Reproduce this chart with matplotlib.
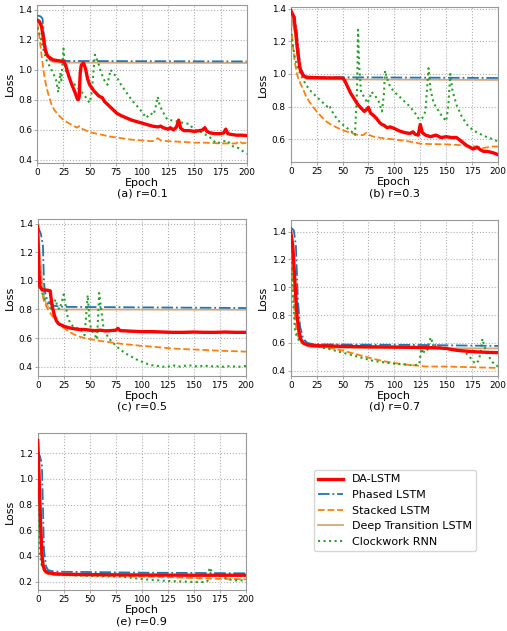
"""Loss curves of five recurrent models for five values of r, 2x3 panel grid."""

import matplotlib
matplotlib.use("Agg")
import matplotlib.pyplot as plt

# (epoch, loss) points, one list per panel and model

# (a) r=0.1
A_DA = [(0, 1.33), (2, 1.32), (4, 1.29), (6, 1.20), (8, 1.12), (10, 1.09), (12, 1.08), (15, 1.065),
        (20, 1.06), (25, 1.055), (27, 1.03), (30, 0.96), (33, 0.90), (36, 0.85), (38, 0.81), (39, 0.80),
        (40, 0.82), (41, 0.98), (42, 1.03), (44, 1.045), (46, 1.01), (48, 0.94), (50, 0.90), (52, 0.88),
        (54, 0.86), (56, 0.845), (58, 0.83), (60, 0.82), (62, 0.815), (64, 0.79), (67, 0.77), (70, 0.75),
        (73, 0.73), (76, 0.71), (80, 0.695), (85, 0.68), (90, 0.665), (95, 0.655), (100, 0.645),
        (105, 0.635), (110, 0.625), (115, 0.62), (118, 0.625), (120, 0.615), (125, 0.605), (127, 0.615),
        (130, 0.60), (133, 0.62), (135, 0.665), (137, 0.61), (140, 0.595), (145, 0.595), (150, 0.59),
        (155, 0.595), (158, 0.60), (160, 0.615), (162, 0.59), (165, 0.58), (170, 0.575), (175, 0.575),
        (178, 0.58), (180, 0.605), (182, 0.575), (185, 0.57), (190, 0.565), (195, 0.565), (200, 0.562)]
A_PH = [(0, 1.36), (3, 1.355), (5, 1.34), (6, 1.25), (8, 1.15), (10, 1.09), (12, 1.07), (15, 1.06),
        (20, 1.058), (200, 1.055)]
A_ST = [(0, 1.31), (2, 1.22), (4, 1.10), (6, 0.99), (8, 0.91), (10, 0.85), (13, 0.78), (16, 0.735),
        (20, 0.70), (25, 0.665), (30, 0.645), (35, 0.625), (38, 0.615), (40, 0.625), (42, 0.61),
        (50, 0.585), (60, 0.57), (70, 0.555), (75, 0.55), (80, 0.545), (90, 0.535), (100, 0.53),
        (110, 0.525), (113, 0.535), (115, 0.545), (118, 0.53), (125, 0.525), (140, 0.52), (150, 0.515),
        (160, 0.515), (175, 0.51), (190, 0.51), (193, 0.525), (196, 0.51), (200, 0.515)]
A_DT = [(0, 1.33), (3, 1.30), (5, 1.25), (7, 1.17), (9, 1.10), (12, 1.06), (15, 1.05), (20, 1.047),
        (200, 1.045)]
A_CW = [(0, 1.28), (3, 1.22), (6, 1.13), (9, 1.06), (12, 1.02), (15, 0.98), (18, 0.93), (20, 0.85),
        (22, 0.98), (23, 0.93), (25, 1.14), (27, 1.00), (30, 0.95), (33, 0.91), (36, 0.90), (40, 0.87),
        (45, 0.83), (50, 0.78), (52, 0.85), (55, 1.10), (58, 1.05), (61, 0.98), (64, 0.93), (67, 0.90),
        (70, 1.00), (72, 0.98), (76, 0.95), (80, 0.90), (85, 0.85), (90, 0.80), (95, 0.76), (100, 0.72),
        (104, 0.68), (108, 0.71), (111, 0.70), (113, 0.75), (115, 0.82), (117, 0.76), (120, 0.72),
        (124, 0.67), (130, 0.66), (135, 0.655), (140, 0.645), (145, 0.64), (150, 0.60), (155, 0.59),
        (158, 0.58), (165, 0.55), (171, 0.51), (176, 0.52), (181, 0.53), (187, 0.49), (192, 0.48),
        (196, 0.46), (200, 0.44)]

# (b) r=0.3
B_DA = [(0, 1.39), (3, 1.35), (5, 1.25), (7, 1.12), (9, 1.03), (12, 0.99), (15, 0.98), (20, 0.978),
        (30, 0.976), (40, 0.975), (50, 0.975), (52, 0.96), (55, 0.92), (58, 0.88), (62, 0.84), (65, 0.81),
        (68, 0.79), (71, 0.77), (73, 0.78), (75, 0.795), (77, 0.76), (80, 0.745), (83, 0.725), (86, 0.70),
        (88, 0.69), (90, 0.685), (93, 0.67), (96, 0.675), (100, 0.665), (105, 0.65), (110, 0.64),
        (115, 0.635), (118, 0.645), (120, 0.63), (123, 0.625), (125, 0.69), (127, 0.64), (130, 0.625),
        (135, 0.615), (140, 0.625), (145, 0.61), (150, 0.615), (155, 0.61), (160, 0.61), (163, 0.595),
        (166, 0.58), (170, 0.56), (173, 0.55), (176, 0.54), (180, 0.55), (183, 0.535), (186, 0.525),
        (190, 0.525), (193, 0.52), (196, 0.515), (200, 0.505)]
B_PH = [(0, 1.38), (4, 1.35), (6, 1.25), (8, 1.12), (10, 1.03), (13, 0.99), (16, 0.98), (200, 0.975)]
B_ST = [(0, 1.30), (2, 1.18), (4, 1.07), (6, 1.00), (8, 0.96), (11, 0.92), (15, 0.86), (20, 0.81),
        (25, 0.77), (30, 0.735), (35, 0.705), (40, 0.685), (45, 0.67), (50, 0.655), (55, 0.645),
        (60, 0.635), (65, 0.625), (70, 0.625), (73, 0.64), (76, 0.625), (80, 0.615), (90, 0.605),
        (100, 0.598), (110, 0.59), (120, 0.58), (125, 0.572), (135, 0.57), (150, 0.568), (160, 0.565),
        (170, 0.56), (180, 0.555), (185, 0.545), (190, 0.55), (195, 0.555), (200, 0.555)]
B_DT = [(0, 1.36), (4, 1.25), (7, 1.10), (10, 1.01), (13, 0.975), (16, 0.967), (200, 0.963)]
B_CW = [(0, 1.28), (2, 1.18), (4, 1.10), (7, 1.03), (10, 0.99), (15, 0.93), (20, 0.89), (25, 0.86),
        (30, 0.83), (35, 0.80), (37, 0.81), (40, 0.77), (45, 0.72), (50, 0.69), (55, 0.665), (60, 0.64),
        (62, 0.625), (64, 0.90), (65, 1.27), (66, 1.05), (68, 0.88), (71, 0.86), (74, 0.82), (76, 0.85),
        (78, 0.89), (82, 0.86), (85, 0.83), (88, 0.77), (90, 0.88), (91, 1.02), (93, 0.97), (96, 0.92),
        (100, 0.89), (105, 0.86), (110, 0.83), (115, 0.80), (120, 0.76), (124, 0.72), (127, 0.73),
        (130, 0.77), (132, 0.95), (133, 1.035), (135, 0.90), (138, 0.82), (142, 0.78), (146, 0.74),
        (150, 0.71), (152, 0.80), (154, 1.00), (156, 0.90), (160, 0.81), (165, 0.74), (170, 0.69),
        (175, 0.66), (180, 0.64), (185, 0.625), (190, 0.61), (195, 0.60), (200, 0.585)]

# (c) r=0.5
C_DA = [(0, 1.38), (1, 1.10), (2, 0.96), (4, 0.94), (6, 0.935), (9, 0.935), (12, 0.93), (13, 0.87),
        (14, 0.82), (16, 0.76), (18, 0.72), (20, 0.70), (23, 0.69), (26, 0.68), (30, 0.672), (35, 0.665),
        (40, 0.66), (45, 0.66), (50, 0.655), (55, 0.652), (60, 0.655), (65, 0.65), (70, 0.652),
        (75, 0.655), (77, 0.668), (79, 0.652), (85, 0.65), (90, 0.648), (100, 0.645), (110, 0.645),
        (120, 0.642), (130, 0.64), (140, 0.64), (150, 0.642), (160, 0.64), (170, 0.64), (180, 0.642),
        (190, 0.64), (200, 0.64)]
C_PH = [(0, 1.38), (3, 1.33), (5, 1.25), (6, 1.00), (7, 0.92), (9, 0.87), (12, 0.84), (16, 0.825),
        (25, 0.818), (200, 0.81)]
C_ST = [(0, 1.30), (2, 1.05), (4, 0.92), (6, 0.86), (9, 0.81), (12, 0.775), (15, 0.745), (18, 0.72),
        (21, 0.695), (25, 0.67), (30, 0.645), (35, 0.625), (40, 0.61), (45, 0.60), (50, 0.593),
        (60, 0.58), (70, 0.57), (80, 0.56), (90, 0.553), (100, 0.545), (110, 0.54), (120, 0.533),
        (130, 0.527), (140, 0.523), (150, 0.52), (160, 0.517), (170, 0.513), (180, 0.51), (190, 0.508),
        (200, 0.505)]
C_DT = [(0, 1.35), (2, 1.20), (4, 1.02), (6, 0.90), (8, 0.84), (11, 0.81), (14, 0.80), (200, 0.798)]
C_CW = [(0, 1.30), (2, 1.05), (4, 0.92), (7, 0.87), (10, 0.84), (13, 0.80), (15, 0.83), (17, 0.87),
        (19, 0.82), (21, 0.80), (23, 0.85), (25, 0.905), (27, 0.82), (29, 0.74), (31, 0.71), (34, 0.68),
        (37, 0.67), (40, 0.67), (43, 0.64), (45, 0.62), (47, 0.80), (48, 0.90), (50, 0.70), (52, 0.65),
        (55, 0.62), (57, 0.59), (59, 0.915), (61, 0.80), (63, 0.68), (65, 0.64), (68, 0.60), (72, 0.57),
        (76, 0.54), (80, 0.515), (85, 0.49), (90, 0.47), (95, 0.45), (100, 0.435), (105, 0.42),
        (110, 0.41), (115, 0.405), (120, 0.40), (125, 0.40), (130, 0.41), (135, 0.40), (140, 0.405),
        (145, 0.41), (150, 0.405), (155, 0.40), (160, 0.41), (165, 0.40), (170, 0.405), (175, 0.40),
        (180, 0.40), (185, 0.405), (190, 0.40), (195, 0.40), (200, 0.405)]

# (d) r=0.7
D_DA = [(0, 1.40), (2, 1.30), (4, 1.05), (6, 0.80), (8, 0.68), (10, 0.62), (13, 0.595), (17, 0.585),
        (25, 0.58), (50, 0.575), (75, 0.572), (100, 0.57), (125, 0.567), (140, 0.565), (150, 0.56),
        (155, 0.553), (160, 0.547), (170, 0.54), (180, 0.535), (190, 0.532), (200, 0.53)]
D_PH = [(0, 1.43), (3, 1.41), (5, 1.30), (6, 1.10), (7, 0.90), (9, 0.72), (12, 0.63), (16, 0.60),
        (22, 0.59), (50, 0.588), (125, 0.585), (200, 0.578)]
D_ST = [(0, 1.36), (2, 1.05), (4, 0.78), (6, 0.67), (8, 0.63), (11, 0.60), (15, 0.585), (20, 0.578),
        (30, 0.57), (40, 0.56), (50, 0.545), (60, 0.525), (70, 0.505), (80, 0.485), (90, 0.468),
        (100, 0.455), (110, 0.445), (120, 0.438), (125, 0.435), (130, 0.43), (140, 0.43), (150, 0.43),
        (160, 0.428), (170, 0.426), (180, 0.424), (190, 0.422), (200, 0.42)]
D_DT = [(0, 1.38), (2, 1.25), (4, 1.00), (6, 0.80), (8, 0.68), (11, 0.61), (15, 0.58), (20, 0.57),
        (50, 0.565), (100, 0.563), (200, 0.56)]
D_CW = [(0, 1.30), (2, 0.95), (4, 0.70), (6, 0.64), (9, 0.61), (12, 0.595), (16, 0.585), (20, 0.58),
        (25, 0.575), (30, 0.565), (35, 0.56), (40, 0.55), (45, 0.54), (50, 0.53), (55, 0.52), (60, 0.51),
        (65, 0.50), (70, 0.49), (75, 0.48), (80, 0.47), (90, 0.46), (100, 0.45), (110, 0.445),
        (115, 0.44), (120, 0.44), (124, 0.445), (126, 0.56), (128, 0.52), (130, 0.58), (132, 0.55),
        (135, 0.64), (137, 0.60), (140, 0.58), (145, 0.565), (150, 0.56), (155, 0.555), (160, 0.55),
        (165, 0.54), (170, 0.52), (175, 0.48), (178, 0.45), (181, 0.47), (183, 0.52), (185, 0.63),
        (187, 0.57), (190, 0.52), (193, 0.48), (196, 0.45), (200, 0.43)]

# (e) r=0.9
E_DA = [(0, 1.30), (1, 1.10), (2, 0.85), (3, 0.60), (4, 0.42), (5, 0.33), (7, 0.285), (10, 0.27),
        (15, 0.262), (25, 0.258), (50, 0.255), (100, 0.252), (150, 0.25), (200, 0.25)]
E_PH = [(0, 1.22), (2, 1.18), (4, 1.12), (5, 0.80), (6, 0.45), (8, 0.32), (10, 0.29), (15, 0.28),
        (25, 0.277), (50, 0.275), (100, 0.27), (150, 0.268), (200, 0.265)]
E_ST = [(0, 1.25), (1, 1.00), (2, 0.70), (3, 0.45), (5, 0.30), (8, 0.265), (12, 0.255), (20, 0.25),
        (40, 0.248), (75, 0.245), (100, 0.24), (125, 0.235), (150, 0.228), (175, 0.222), (200, 0.218)]
E_DT = [(0, 1.20), (1, 1.05), (2, 0.85), (4, 0.50), (6, 0.32), (8, 0.275), (12, 0.26), (20, 0.255),
        (50, 0.252), (200, 0.25)]
E_CW = [(0, 1.20), (1, 0.75), (2, 0.42), (4, 0.32), (6, 0.29), (10, 0.27), (15, 0.26), (25, 0.252),
        (40, 0.248), (60, 0.242), (82, 0.238), (100, 0.22), (125, 0.205), (150, 0.198), (160, 0.197),
        (163, 0.205), (165, 0.31), (167, 0.28), (170, 0.26), (175, 0.245), (180, 0.23), (185, 0.215),
        (190, 0.21), (195, 0.21), (200, 0.21)]

CAPTIONS = ["(a) r=0.1", "(b) r=0.3", "(c) r=0.5", "(d) r=0.7", "(e) r=0.9"]
PANELS = [
    (A_DA, A_PH, A_ST, A_DT, A_CW),
    (B_DA, B_PH, B_ST, B_DT, B_CW),
    (C_DA, C_PH, C_ST, C_DT, C_CW),
    (D_DA, D_PH, D_ST, D_DT, D_CW),
    (E_DA, E_PH, E_ST, E_DT, E_CW),
]
YLIMS = [(0.38, 1.43), (0.46, 1.41), (0.337, 1.43), (0.364, 1.484), (0.135, 1.356)]
YTICKS = [
    [0.4, 0.6, 0.8, 1.0, 1.2, 1.4],
    [0.6, 0.8, 1.0, 1.2, 1.4],
    [0.4, 0.6, 0.8, 1.0, 1.2, 1.4],
    [0.4, 0.6, 0.8, 1.0, 1.2, 1.4],
    [0.2, 0.4, 0.6, 0.8, 1.0, 1.2],
]
MODELS = ["DA-LSTM", "Phased LSTM", "Stacked LSTM", "Deep Transition LSTM", "Clockwork RNN"]

W, H = 507, 631
RECTS = [
    (37.3, 5, 246.7, 163),
    (290.7, 7, 498, 162),
    (37.7, 219.3, 246, 375.7),
    (290.7, 220, 498, 375.7),
    (37.7, 433.3, 246, 590),
]

STYLES = [
    dict(color="#ff0000", linestyle="-", linewidth=2.4, zorder=6),
    dict(color="#1f77b4", linestyle="-.", linewidth=1.3, zorder=5),
    dict(color="#ff7f0e", linestyle="--", linewidth=1.3, zorder=3),
    dict(color="#daa57a", linestyle="-", linewidth=1.3, zorder=2),
    dict(color="#2ca02c", linestyle=":", linewidth=1.5, zorder=4),
]


def main() -> None:
    fig = plt.figure(figsize=(W / 100, H / 100), dpi=100)
    handles = []
    for i, (series, caption, ylim, yticks, (x0, y0, x1, y1)) in enumerate(
            zip(PANELS, CAPTIONS, YLIMS, YTICKS, RECTS)):
        ax = fig.add_axes([x0 / W, 1 - y1 / H, (x1 - x0) / W, (y1 - y0) / H])
        for pts, name, style in zip(series, MODELS, STYLES):
            xs = [p[0] for p in pts]
            ys = [p[1] for p in pts]
            (line,) = ax.plot(xs, ys, label=name, **style)
            if i == 0:
                handles.append(line)
        ax.set_xlim(0, 200)
        ax.set_ylim(*ylim)
        ax.set_xticks(range(0, 201, 25))
        ax.set_yticks(yticks)
        ax.grid(True, linestyle=":", color="#b0b0b0", linewidth=0.8)
        ax.set_axisbelow(True)
        for sp in ax.spines.values():
            sp.set_color("#999999")
            sp.set_linewidth(0.8)
        ax.tick_params(labelsize=6.4, length=2, width=0.6, color="#999999", pad=1.8)
        ax.tick_params(axis="y", pad=1.5)
        ax.set_xlabel("Epoch", fontsize=8, labelpad=0.5)
        ax.set_ylabel("Loss", fontsize=8, labelpad=2.5)
        ax.annotate(caption, xy=(0.5, 0), xycoords="axes fraction", xytext=(0, -31),
                    textcoords="offset pixels", ha="center", va="center", fontsize=8)

    fig.legend(handles, MODELS, loc="upper left", bbox_to_anchor=(314 / W, 1 - 470 / H),
               fontsize=8, handlelength=2.2, borderaxespad=0, frameon=True)
    fig.savefig("out.png", dpi=100)
    plt.close(fig)


if __name__ == "__main__":
    main()
